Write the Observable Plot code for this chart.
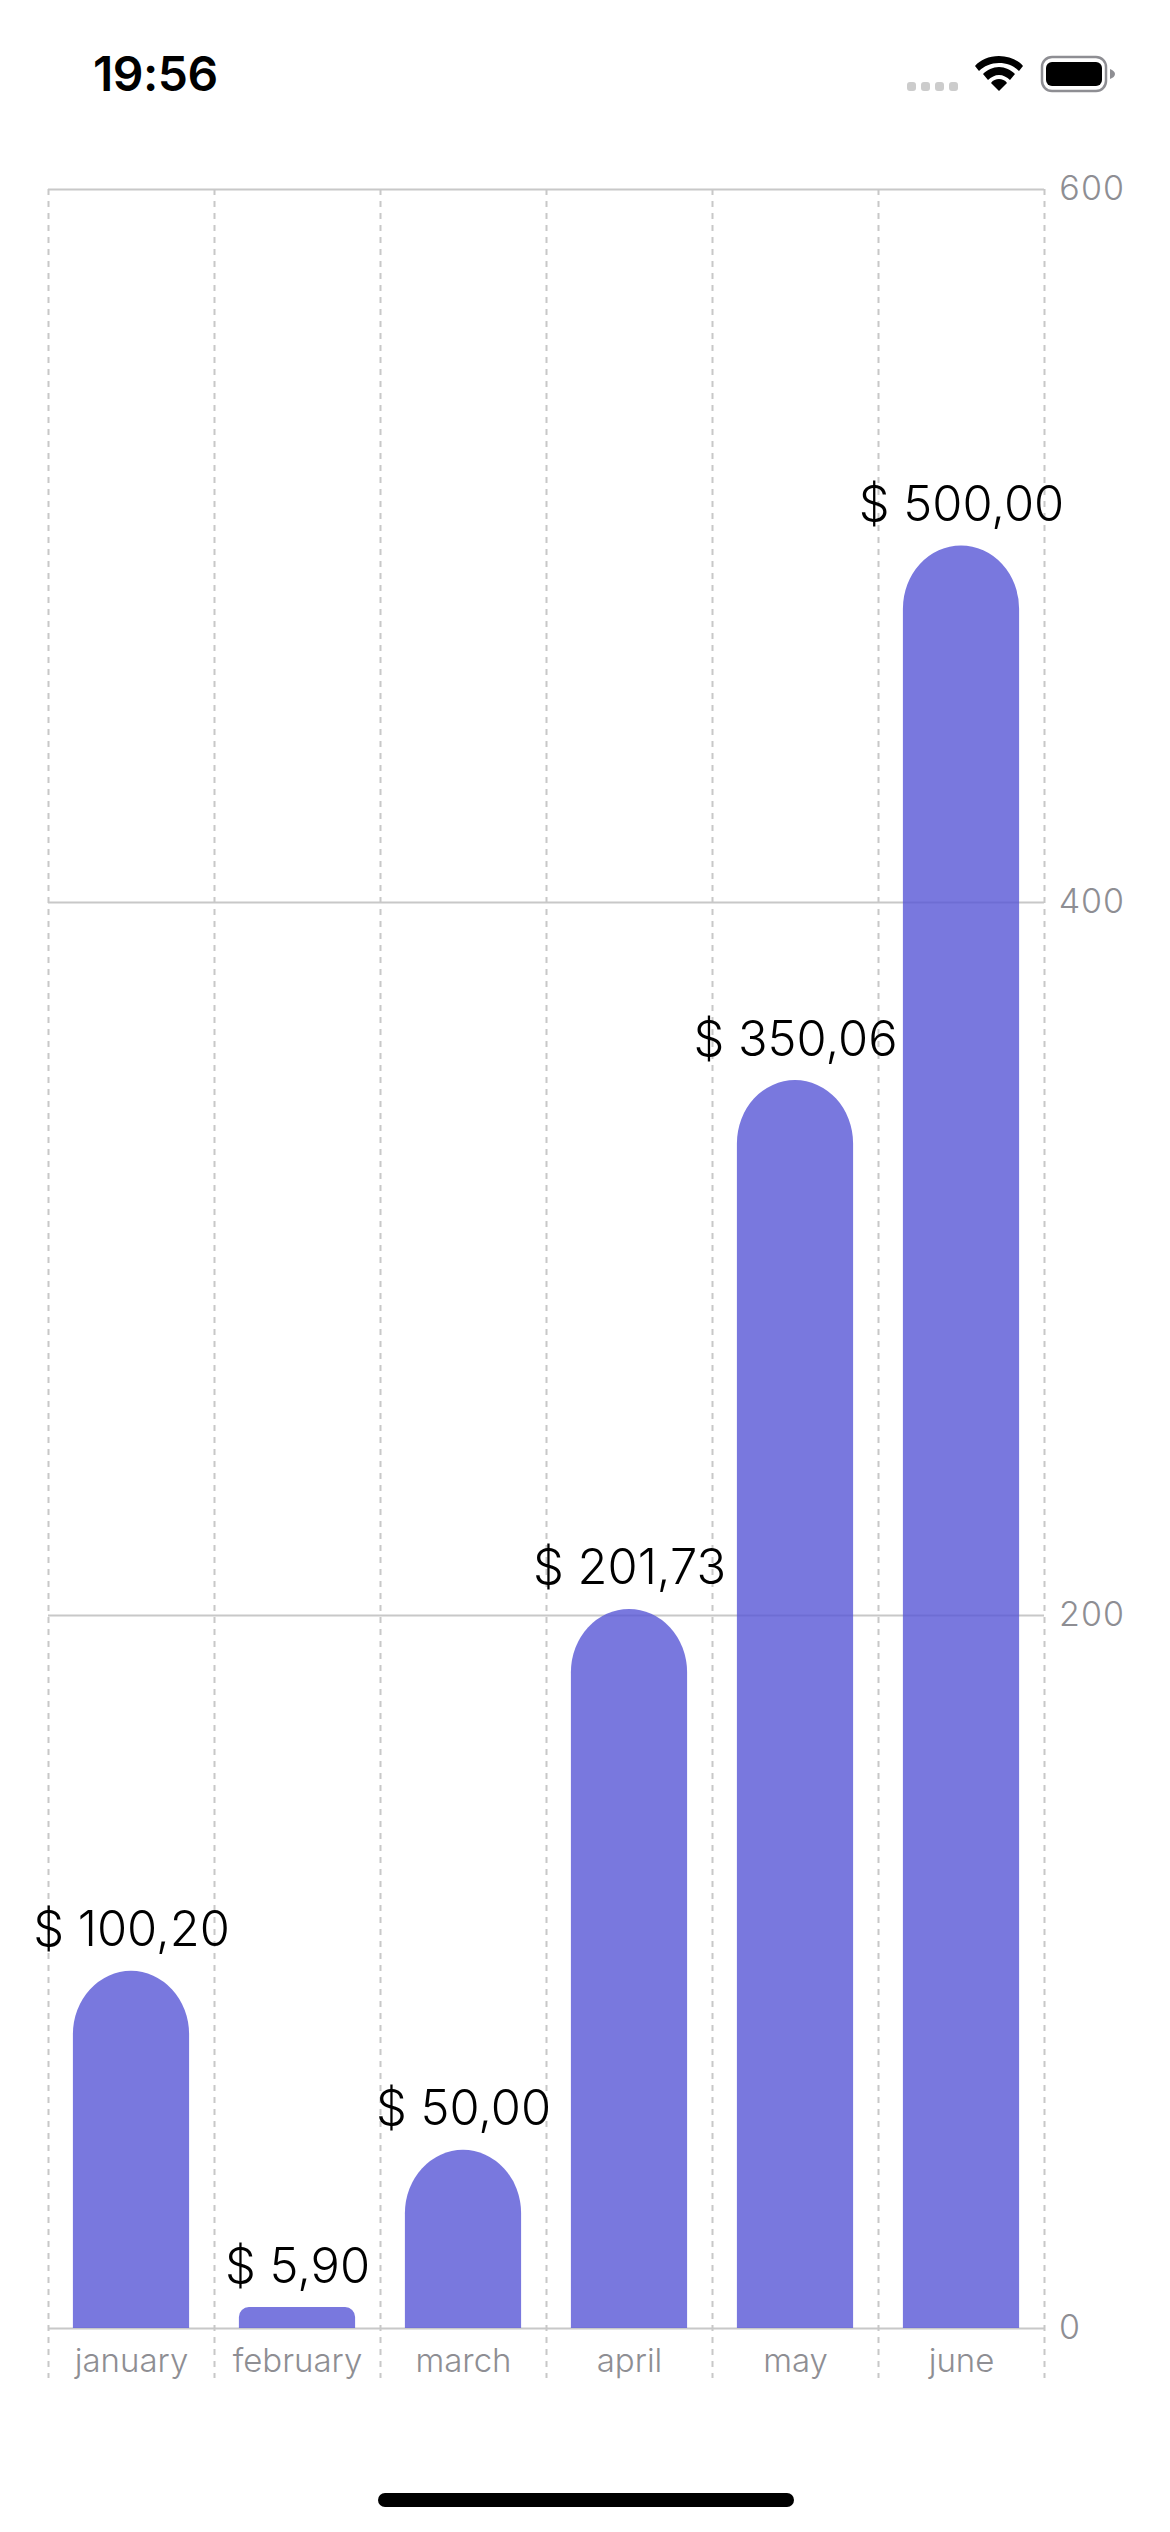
<!DOCTYPE html>
<html><head><meta charset="utf-8">
<script src="https://cdn.jsdelivr.net/npm/d3@7"></script>
<script src="https://cdn.jsdelivr.net/npm/@observablehq/plot@0.6"></script>
<style>
html,body{margin:0;padding:0;background:#fff;width:1170px;height:2532px;overflow:hidden}
#status{position:relative;height:150px;width:1170px}
#clock{position:absolute;left:93px;top:46px;font:600 48px/56px Inter,sans-serif;color:#000;letter-spacing:-.5px}
#icons{position:absolute;left:900px;top:50px}
#chart svg{display:block;overflow:visible}
#home{position:absolute;left:378px;top:2493px;width:416px;height:14px;border-radius:7px;background:#000}
</style></head><body>
<div id="status"><div id="clock">19:56</div>
<svg id="icons" width="230" height="50" viewBox="0 0 230 50">
<g fill="#cccccc"><rect x="7" y="32" width="9" height="9" rx="3"/><rect x="21" y="32" width="9" height="9" rx="3"/><rect x="35" y="32" width="9" height="9" rx="3"/><rect x="49" y="32" width="9" height="9" rx="3"/></g>
<g fill="#000"><path d="M99 6C89 6 80 10 75 16L79 21C84 16 91 13 99 13C107 13 114 16 119 21L123 16C118 10 109 6 99 6Z"/><path d="M99 17C93 17 87 20 83 24L88 30C91 27 95 25 99 25C103 25 107 27 110 30L115 24C111 20 105 17 99 17Z"/><path d="M99 29C96 29 93 30 91 33L99 41L107 33C105 30 102 29 99 29Z"/></g>
<rect x="142" y="7" width="64" height="34" rx="10" fill="none" stroke="#8e8e93" stroke-width="2.5"/>
<rect x="146" y="12" width="56" height="24" rx="6" fill="#000"/>
<path d="M210 19C213 20 215 22 215 24C215 26 213 28 210 29Z" fill="#8e8e93"/>
</svg></div>
<div id="chart"></div>
<div id="home"></div>
<script>
const months = ["january","february","march","april","may","june"];
const values = [100.20,5.90,50.00,201.73,350.06,500.00];
const valueLabels = ["$ 100,20","$ 5,90","$ 50,00","$ 201,73","$ 350,06","$ 500,00"];
const yTicks = [0,200,400,600];
const rows = months.map((m,i)=>({i,m,v:values[i],l:valueLabels[i]}));
const tall = rows.filter(d=>d.v>=50), low = rows.filter(d=>d.v<50);
const F = "Inter, sans-serif";
const barOpts = {x1:d=>d.i+.15,x2:d=>d.i+.85,y1:()=>0,y2:"v",fill:"#5856D6",fillOpacity:.8};
// the reference's tall bars have a top curve a little taller than it is wide
const archTop = (index,scales,vals,dims,ctx,next) => {
  const g = next(index,scales,vals,dims,ctx);
  const paths = g.querySelectorAll("path");
  Array.from(index).forEach((i,k) => {
    const xa=vals.x1[i], xb=vals.x2[i], yb=Math.max(vals.y1[i],vals.y2[i]), yt=Math.min(vals.y1[i],vals.y2[i]);
    const rx=(xb-xa)/2, ry=rx*1.09;
    if (paths[k]) paths[k].setAttribute("d",`M${xa},${yb}V${yt+ry}A${rx},${ry} 0 0 1 ${xa+rx},${yt}A${rx},${ry} 0 0 1 ${xb},${yt+ry}V${yb}Z`);
  });
  return g;
};
const chart = Plot.plot({
  width:1170,height:2250,marginTop:39,marginBottom:22,marginLeft:48,marginRight:126,
  x:{type:"linear",domain:[0,6],axis:null},
  y:{type:"linear",domain:[-14,600],axis:null},
  style:{background:"transparent",fontFamily:F},
  marks:[
    Plot.ruleY(yTicks,{stroke:"#c8c8c8",strokeWidth:2}),
    Plot.ruleX(d3.range(0,7),{y1:600,y2:-14,stroke:"#c8c8c8",strokeWidth:2,strokeDasharray:"6,6"}),
    Plot.rect(tall,{...barOpts,rx1y2:58,rx2y2:58,render:archTop}),
    Plot.rect(low,{...barOpts,rx1y2:10,rx2y2:10}),
    Plot.text(rows,{x:d=>d.i+.5,y:"v",text:"l",dy:-25,lineAnchor:"bottom",fontSize:48.8,fontWeight:280,fill:"#000"}),
    Plot.text(rows,{x:d=>d.i+.5,y:()=>0,text:"m",dy:43,lineAnchor:"bottom",fontSize:33,fontWeight:340,fill:"#8e8e93"}),
    Plot.axisY({anchor:"right",ticks:yTicks,tickSize:0,tickPadding:14,fontSize:34,fontWeight:340,fill:"#8e8e93",label:null,tickFormat:d=>String(d)})
  ]
});
document.getElementById("chart").appendChild(chart);
</script></body></html>
